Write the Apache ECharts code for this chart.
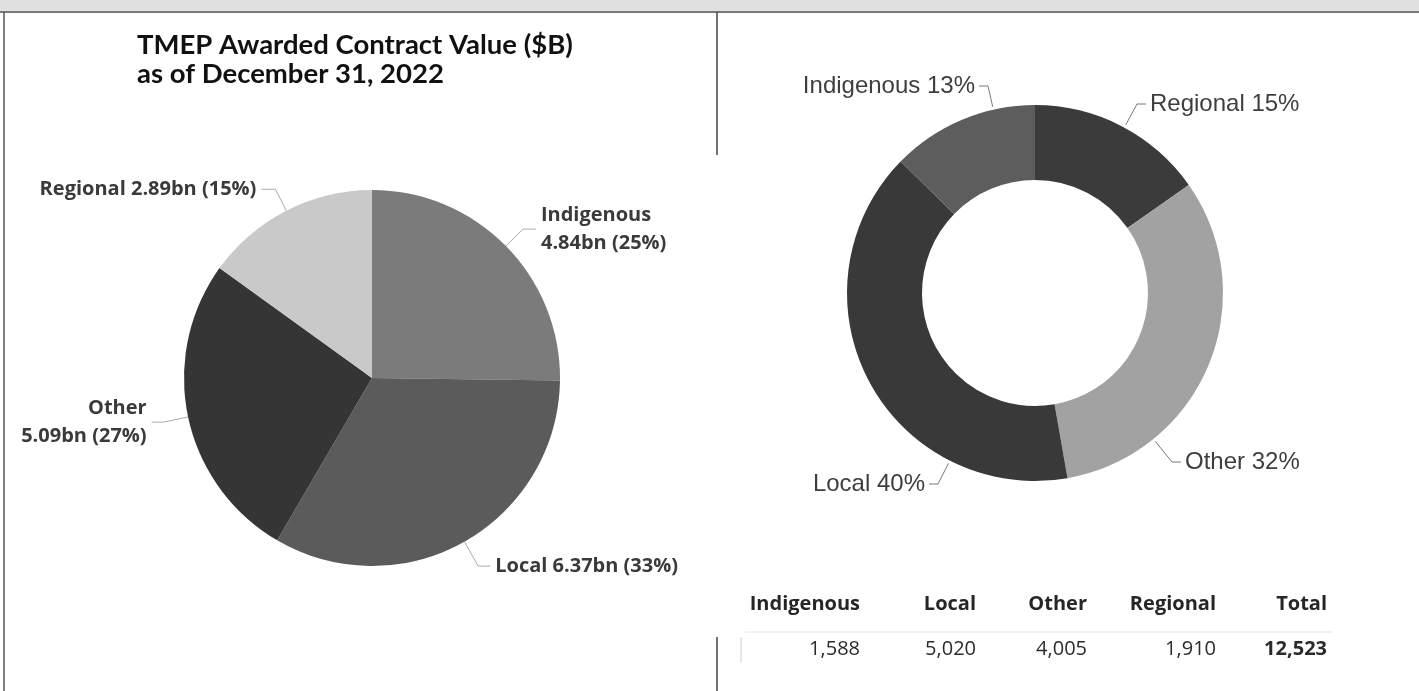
<!DOCTYPE html>
<html>
<head>
<meta charset="utf-8">
<title>TMEP Awarded Contract Value</title>
<script src="https://cdn.jsdelivr.net/npm/echarts@6.0.0/dist/echarts.min.js"></script>
<style>
  html, body { margin: 0; padding: 0; background: #fff; }
  #main { width: 1419px; height: 691px; }
</style>
</head>
<body>
<div id="main"></div>
<script>
// left pie - awarded contract value ($B)
var pieCats = ['Indigenous', 'Local', 'Other', 'Regional'];
var pieValues = [4.84, 6.37, 5.09, 2.89];

// right donut, clockwise from 12 o'clock
var donutCats = ['Regional', 'Other', 'Local', 'Indigenous'];
var donutValues = [1910, 4005, 5020, 1588];

// table under the donut
var tableCats = ['Indigenous', 'Local', 'Other', 'Regional'];
var tableValues = [1588, 5020, 4005, 1910];

var pieColors = { Indigenous: '#7b7b7b', Local: '#5b5b5b', Other: '#353535', Regional: '#c9c9c9' };
var donutColors = { Regional: '#3b3b3b', Other: '#a2a2a2', Local: '#393939', Indigenous: '#5d5d5d' };
var twoLine = ['Indigenous', 'Other']; // labels that wrap on the left pie
// label line [length, length2] per slice on the left pie
var pieLineLen = { Indigenous: [24, 13], Local: [28, 12], Other: [25, 12], Regional: [24, 14] };

// donut geometry + label anchors [x, y, align]
var donutCenter = [1035, 293];
var donutRadius = [113, 188];
var donutLabelPos = {
  Indigenous: [975, 86, 'right'],
  Regional: [1150, 104, 'left'],
  Other: [1185, 462, 'left'],
  Local: [925, 484, 'right']
};

function fmt(n) {
  return n.toLocaleString('en-US');
}

// leader: label edge -> short horizontal -> nearest spot on the ring
function donutLeader(q) {
  var dir = q[2] === 'right' ? 1 : -1;
  var end = [q[0] + dir * 4, q[1]];
  var elbow = [q[0] + dir * 13, q[1]];
  var dx = elbow[0] - donutCenter[0], dy = elbow[1] - donutCenter[1];
  var d = Math.sqrt(dx * dx + dy * dy);
  var r = donutRadius[1] + 3;
  var arc = [donutCenter[0] + dx / d * r, donutCenter[1] + dy / d * r];
  return [arc, elbow, end];
}

var chart = echarts.init(document.getElementById('main'));

var graphics = [
  { type: 'rect', shape: { x: 0, y: 0, width: 1419, height: 11 }, style: { fill: '#e1e1e1' } },
  { type: 'line', shape: { x1: 0, y1: 12, x2: 1419, y2: 12 }, style: { stroke: '#7a7a7a', lineWidth: 2 } },
  { type: 'line', shape: { x1: 4, y1: 12, x2: 4, y2: 691 }, style: { stroke: '#555', lineWidth: 1.5 } },
  { type: 'line', shape: { x1: 717, y1: 12, x2: 717, y2: 155 }, style: { stroke: '#444', lineWidth: 1.5 } },
  { type: 'line', shape: { x1: 717, y1: 637, x2: 717, y2: 691 }, style: { stroke: '#444', lineWidth: 1.5 } },
  // table rules
  { type: 'line', shape: { x1: 745, y1: 632, x2: 1332, y2: 632 }, style: { stroke: '#e4e4e4', lineWidth: 1 } },
  { type: 'line', shape: { x1: 741, y1: 637, x2: 741, y2: 662 }, style: { stroke: '#cfcfcf', lineWidth: 1 } }
];

// table columns (right edges)
var colRight = [860, 976, 1087, 1216, 1327];
var headers = tableCats.concat(['Total']);
var total = tableValues.reduce(function (a, b) { return a + b; }, 0);
var cells = tableValues.concat([total]);
headers.forEach(function (h, i) {
  graphics.push({
    type: 'text', x: colRight[i], y: 604,
    style: { text: h, align: 'right', verticalAlign: 'middle', fill: '#262626',
      font: 'bold 20px "Open Sans", sans-serif' }
  });
  graphics.push({
    type: 'text', x: colRight[i], y: 649,
    style: { text: fmt(cells[i]), align: 'right', verticalAlign: 'middle', fill: '#2b2b2b',
      font: (i === headers.length - 1 ? 'bold ' : '') + '20px "Open Sans", sans-serif' }
  });
});

var option = {
  backgroundColor: '#ffffff',
  animation: false,
  title: {
    text: 'TMEP Awarded Contract Value ($B)\nas of December 31, 2022',
    left: 132,
    top: 26,
    textStyle: { fontFamily: 'Lato', fontWeight: 'bold', fontSize: 27.5, lineHeight: 29, color: '#111' }
  },
  graphic: graphics,
  series: [
    {
      name: 'Awarded',
      type: 'pie',
      center: [372, 378],
      radius: 188,
      startAngle: 90,
      clockwise: true,
      percentPrecision: 0,
      label: {
        color: '#3a3a3a',
        fontFamily: 'Open Sans',
        fontWeight: 'bold',
        fontSize: 20,
        lineHeight: 28,
        formatter: function (p) {
          var t = p.value.toFixed(2) + 'bn (' + p.percent + '%)';
          return twoLine.indexOf(p.name) >= 0 ? p.name + '\n' + t : p.name + ' ' + t;
        }
      },
      labelLine: { lineStyle: { color: '#ababab', width: 1 } },
      itemStyle: { borderWidth: 0 },
      data: pieCats.map(function (c, i) {
        return {
          name: c, value: pieValues[i],
          itemStyle: { color: pieColors[c] },
          labelLine: { length: pieLineLen[c][0], length2: pieLineLen[c][1] }
        };
      })
    },
    {
      name: 'Donut',
      type: 'pie',
      center: donutCenter,
      radius: donutRadius,
      startAngle: 90,
      clockwise: true,
      percentPrecision: 0,
      label: {
        color: '#3e3e3e',
        fontFamily: 'Liberation Sans',
        fontSize: 24,
        formatter: '{b} {d}%'
      },
      labelLine: { length: 10, length2: 8, lineStyle: { color: '#7a7a7a', width: 1 } },
      labelLayout: function (p) {
        var q = donutLabelPos[donutCats[p.dataIndex]];
        return {
          x: q[0], y: q[1], align: q[2], verticalAlign: 'middle',
          labelLinePoints: donutLeader(q)
        };
      },
      itemStyle: { borderWidth: 0 },
      data: donutCats.map(function (c, i) {
        return { name: c, value: donutValues[i], itemStyle: { color: donutColors[c] } };
      })
    }
  ]
};

chart.setOption(option);
window.addEventListener('resize', function () { chart.resize(); });
</script>
</body>
</html>
